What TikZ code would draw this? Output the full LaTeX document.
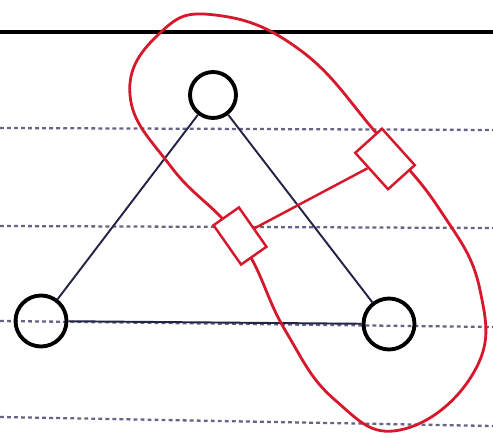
\documentclass[tikz,border=0pt]{standalone}
\usepackage{xcolor}
\usepackage{tikz}
\usetikzlibrary{calc}
\definecolor{penred}{RGB}{214, 24, 44}
\definecolor{inknavy}{RGB}{35, 35, 70}
\definecolor{rulegray}{RGB}{100, 100, 135}

\begin{document}
\begin{tikzpicture}[
  x=0.02cm, y=-0.02cm,
  vertex/.style={draw=black, circle, line width=2.2pt, minimum size=1.02cm, inner sep=0pt},
  edge/.style={draw=inknavy, line width=1.1pt},
  loop/.style={draw=penred, line width=1.6pt},
  port/.style={draw=penred, fill=white, line width=1.4pt, inner sep=0pt},
  ruling/.style={draw=rulegray, line width=1.3pt, dash pattern=on 2.2pt off 1.8pt}
]
  \useasboundingbox (0,0) rectangle (493,438);

  % Papier
  \draw[black, line width=2.3pt] (0,32) -- (493,32);
  \draw[ruling] (0,128) -- (493,130);
  \draw[ruling] (0,226) -- (493,228);
  \draw[ruling] (0,321) -- (493,327);
  \draw[ruling] (0,417) -- (493,426);

  % Graph
  \node[vertex, minimum size=0.92cm] (vtop) at (213,95) {};
  \node[vertex] (vleft) at (41,321) {};
  \node[vertex] (vright) at (389,324) {};

  \draw[edge] (vtop) -- (vleft);
  \draw[edge] (vtop) -- (vright);
  \draw[edge] (vleft) -- (vright);

  % Schleife
  \draw[loop] plot[smooth cycle, tension=0.75] coordinates {
    (215,15) (300,50) (378,135) (440,210) (480,290) (474,372)
    (400,430) (335,400) (285,330) (240,240) (172,168) (130,95) (160,33)};

  \node[port, minimum width=0.96cm, minimum height=0.62cm, rotate=-55] (pleft) at (240,236) {};
  \node[port, minimum width=0.98cm, minimum height=0.72cm, rotate=-48] (pright) at (385,159) {};
  \draw[loop, line width=1.4pt] (pleft) -- (pright);

\end{tikzpicture}
\end{document}
